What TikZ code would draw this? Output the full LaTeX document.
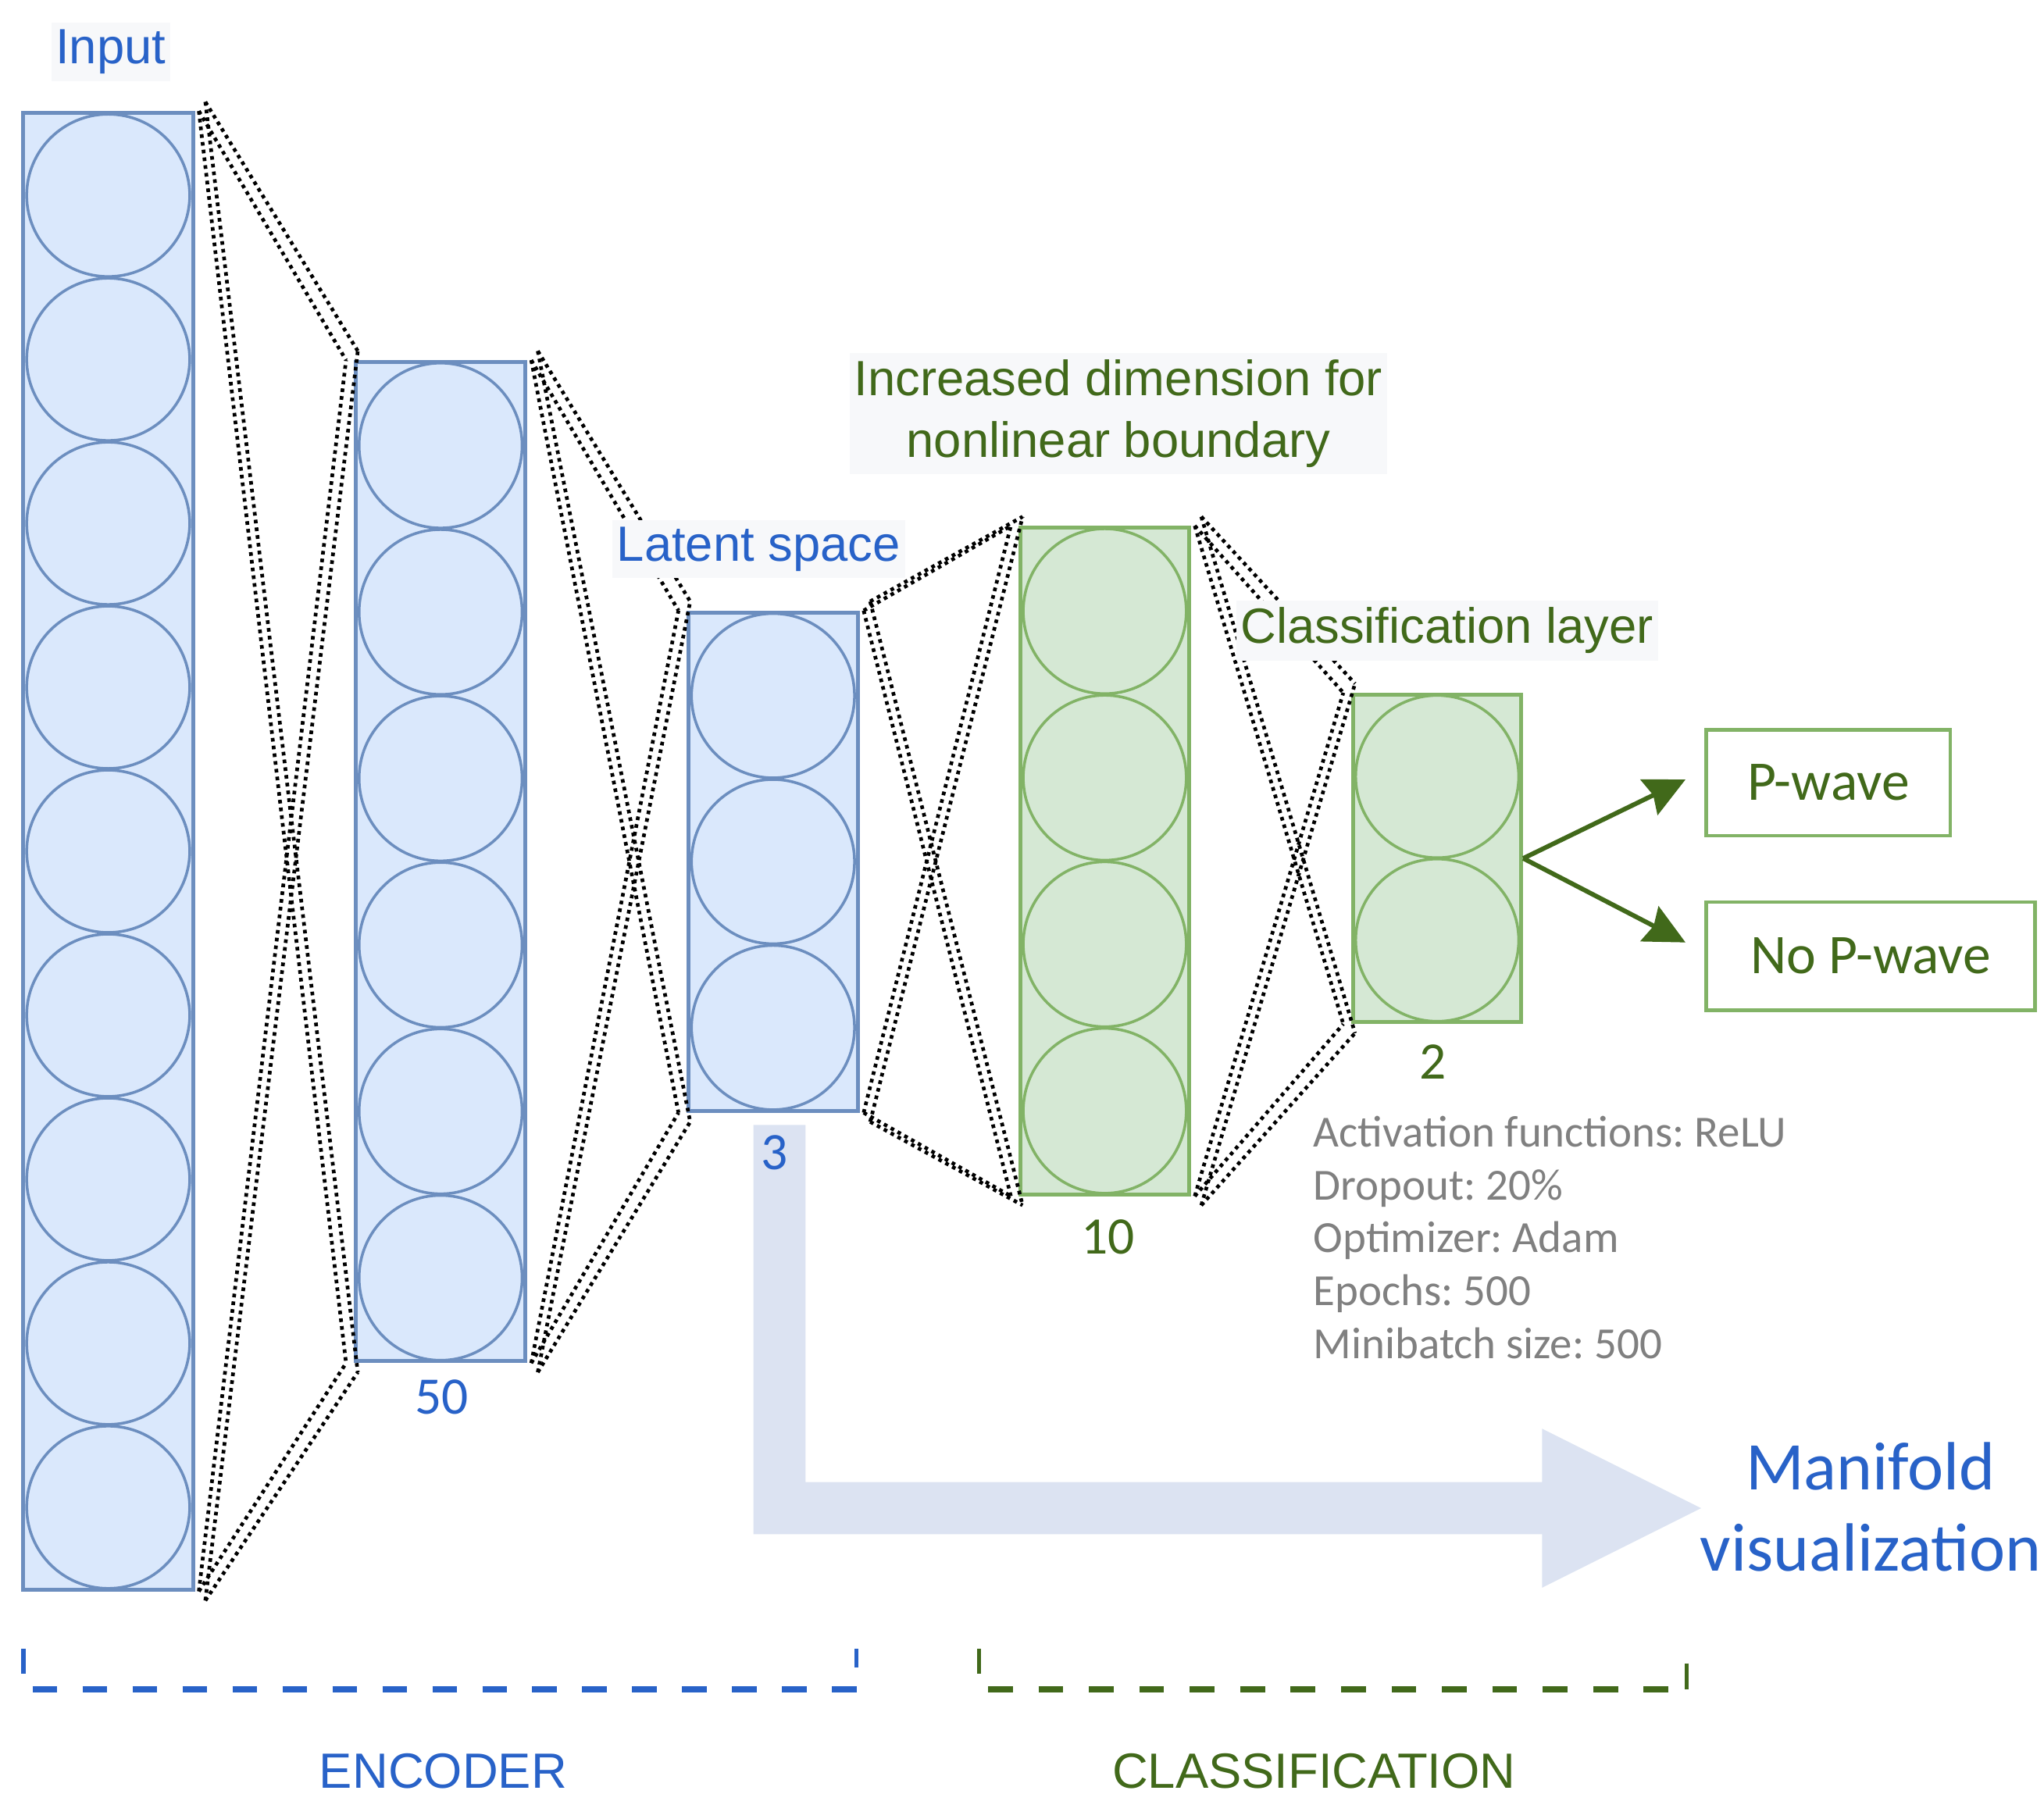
\documentclass[tikz,border=0pt]{standalone}
\usepackage{fontspec}
\setmainfont{Liberation Sans}
\newfontfamily\calib{Carlito}
\usetikzlibrary{shapes.geometric,arrows.meta}
\frenchspacing
\definecolor{bfill}{HTML}{DAE8FC}
\definecolor{bline}{HTML}{6C8EBF}
\definecolor{gfill}{HTML}{D5E8D4}
\definecolor{gline}{HTML}{82B366}
\definecolor{btext}{HTML}{2862C8}
\definecolor{gtext}{HTML}{41691A}
\definecolor{txtgray}{HTML}{808080}
\definecolor{lblbg}{HTML}{F7F8FA}
\definecolor{bigarrowc}{HTML}{DCE3F2}
\begin{document}
\begin{tikzpicture}[x=0.01cm,y=-0.01cm,
  layerB/.style={rectangle, draw=bline, fill=bfill, line width=0.85pt, inner sep=0pt, minimum width=1.30cm},
  layerG/.style={rectangle, draw=gline, fill=gfill, line width=0.85pt, inner sep=0pt, minimum width=1.29cm},
  neuB/.style={ellipse, draw=bline, line width=0.6pt, inner sep=0pt, minimum width=1.25cm},
  neuG/.style={ellipse, draw=gline, line width=0.6pt, inner sep=0pt, minimum width=1.25cm},
  conn/.style={draw=black, line width=0.8pt, dash pattern=on 0.8pt off 0.9pt},
  helv/.style={font=\fontsize{10.8}{13.4}\selectfont},
  lblbox/.style={helv, fill=lblbg, inner xsep=1pt, inner ysep=1.5pt},
  num/.style={font=\calib\fontsize{11.5}{13}\selectfont, inner sep=0pt, anchor=base},
  param/.style={font=\calib\fontsize{9.7}{11.5}\selectfont, text=txtgray, inner sep=0pt, anchor=base west},
  outbox/.style={rectangle, draw=gline, line width=0.8pt, text=gtext, font=\calib\fontsize{12.2}{14}\selectfont, inner sep=0pt},
  garrow/.style={draw=gtext, line width=1pt, -{Stealth[length=0.31cm,width=0.30cm,inset=0.035cm]}},
  bigarr/.style={fill=bigarrowc},
  bracketB/.style={draw=btext, line width=1.5pt, dash pattern=on 5.4pt off 5.5pt},
  bracketG/.style={draw=gtext, line width=1.5pt, dash pattern=on 5.4pt off 5.6pt},
  tickB/.style={draw=btext, line width=0.9pt},
  tickG/.style={draw=gtext, line width=0.9pt},
  bigtxt/.style={font=\calib\fontsize{14.9}{17.6}\selectfont, text=btext, inner sep=0pt, anchor=base}
]
\useasboundingbox (0,0) rectangle (1568,1376);

% big arrow to manifold visualization
\fill[bigarr] (578,863) -- (618,863) -- (618,1137) -- (1183,1137) -- (1183,1096)
  -- (1305,1157) -- (1183,1218) -- (1183,1177) -- (578,1177) -- cycle;

% layers
\node[layerB, minimum height=11.32cm] (L1) at (83,653) {};
\foreach \i in {1,...,9}
  \node[neuB, minimum height=1.245cm] (a\i) at (83,{87+62.9+(\i-1)*125.8}) {};
\node[layerB, minimum height=7.66cm] (L2) at (338,661) {};
\foreach \i in {1,...,6}
  \node[neuB, minimum height=1.265cm] (b\i) at (338,{278+63.8+(\i-1)*127.7}) {};
\node[layerB, minimum height=3.82cm] (L3) at (593,661) {};
\foreach \i in {1,...,3}
  \node[neuB, minimum height=1.26cm] (c\i) at (593,{470+63.7+(\i-1)*127.3}) {};
\node[layerG, minimum height=5.11cm] (L4) at (847.5,660.5) {};
\foreach \i in {1,...,4}
  \node[neuG, minimum height=1.265cm] (d\i) at (847.5,{405+63.9+(\i-1)*127.75}) {};
\node[layerG, minimum height=2.51cm] (L5) at (1102.5,658.5) {};
\foreach \i in {1,...,2}
  \node[neuG, minimum height=1.245cm] (e\i) at (1102.5,{533+62.75+(\i-1)*125.5}) {};

% dotted connectors between layers
\foreach \a/\b in {L1/L2,L2/L3,L3/L4,L4/L5}{
  \foreach \p/\dy in {north east/-1,south east/1}{
    \foreach \q/\dz in {north west/-1,south west/1}{
      \draw[conn] ([shift={(3,0)}]\a.\p) -- ([shift={(-6,0)}]\b.\q);
      \draw[conn] ([shift={(8,7*\dy)}]\a.\p) -- ([shift={(3,7*\dz)}]\b.\q);
    }
  }
}

% labels
\node[lblbox, text=btext, anchor=base] (tinput) at (85,49) {Input};
\node[lblbox, text=btext, anchor=base] (tlatent) at (582,430.5) {Latent space};
\node[lblbox, text=gtext, anchor=north, align=center] (tincr) at (858,270)
  {Increased dimension for\\nonlinear boundary};
\node[lblbox, text=gtext, anchor=base] (tclass) at (1110,493.5) {Classification layer};

\node[num, text=btext] (n50) at (339,1085) {50};
\node[num, text=btext] (n3) at (594,897) {3};
\node[num, text=gtext] (n10) at (850,962) {10};
\node[num, text=gtext] (n2) at (1099,828) {2};

% outputs
\node[outbox, minimum width=1.87cm, minimum height=0.81cm] (pw) at (1402.5,600.5) {P-wave};
\node[outbox, minimum width=2.52cm, minimum height=0.83cm] (npw) at (1435,733.5) {No P-wave};
\coordinate (ta) at (1293,598);
\coordinate (tb) at (1293,723);
\draw[garrow] (L5.east) -- (ta);
\draw[garrow] (L5.east) -- (tb);

% parameters
\node[param] (p1) at (1007,880) {Activation functions: ReLU};
\node[param] (p2) at (1007,920.5) {Dropout: 20\%};
\node[param] (p3) at (1007,961) {Optimizer: Adam};
\node[param] (p4) at (1007,1001.5) {Epochs: 500};
\node[param] (p5) at (1007,1042) {Minibatch size: 500};

% manifold visualization
\node[bigtxt] (mv1) at (1435,1143) {Manifold};
\node[bigtxt] (mv2) at (1435,1205) {visualization};

% brackets
\draw[tickB] (18,1265) -- (18,1284);
\draw[bracketB] (25,1296) -- (657,1296);
\draw[tickB] (657,1265) -- (657,1279);
\draw[tickG] (751,1265) -- (751,1284);
\draw[bracketG] (758,1296) -- (1290,1296);
\draw[tickG] (1294,1276) -- (1294,1296);
\node[helv, text=btext, inner sep=0pt, anchor=base] (tenc) at (340,1372) {ENCODER};
\node[helv, text=gtext, inner sep=0pt, anchor=base] (tcls) at (1008,1372) {CLASSIFICATION};
\end{tikzpicture}
\end{document}
